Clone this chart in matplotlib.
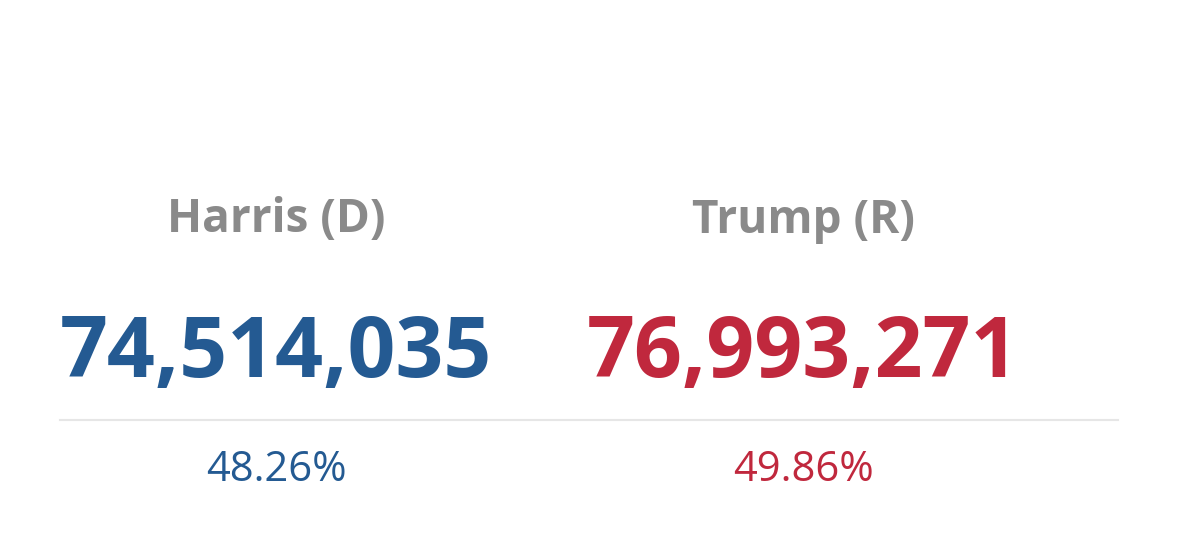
import matplotlib.pyplot as plt
from matplotlib.lines import Line2D

W, H = 1179, 536
names = ["Harris (D)", "Trump (R)"]
votes = [74514035, 76993271]
shares = [48.26, 49.86]
colors = ["#245a92", "#c0283d"]
centers = [276, 803]

plt.rcParams['font.family'] = ['Open Sans', 'DejaVu Sans']
fig = plt.figure(figsize=(W / 100, H / 100), dpi=100)
fig.patch.set_facecolor("white")

def fy(y):
    return 1 - y / H

for name, v, s, c, x in zip(names, votes, shares, colors, centers):
    fig.text(x / W, fy(220), name, ha="center", va="center",
             fontsize=33, fontweight="bold", color="#8a8a8a")
    fig.text(x / W, fy(355), f"{v:,}", ha="center", va="center",
             fontsize=60.5, fontweight="bold", color=c)
    fig.text(x / W, fy(470), f"{s:.2f}%", ha="center", va="center",
             fontsize=30, color=c)

fig.add_artist(Line2D([60 / W, 1118 / W], [fy(420), fy(420)],
                      color="#e6e6e6", linewidth=1.5, transform=fig.transFigure))

fig.savefig("out.png", dpi=100, facecolor="white")
